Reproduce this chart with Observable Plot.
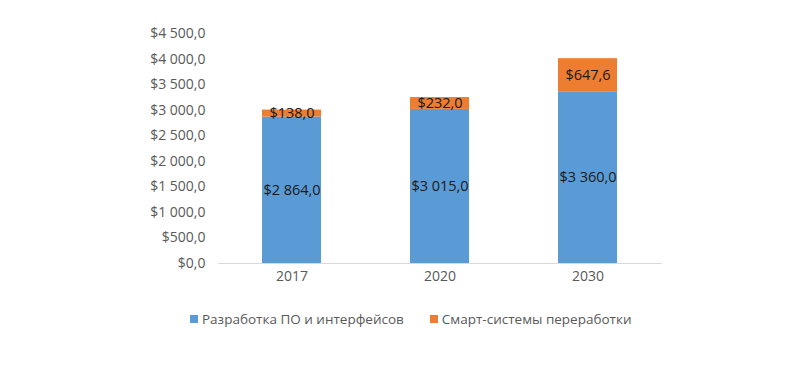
<!DOCTYPE html>
<html>
<head>
<meta charset="utf-8">
<script src="https://cdn.jsdelivr.net/npm/d3@7"></script>
<script src="https://cdn.jsdelivr.net/npm/@observablehq/plot@0.6"></script>
<style>
  body { margin: 0; background: #fff; font-family: "Open Sans", "Noto Sans", sans-serif; }
  #chart { position: relative; width: 800px; height: 369px; }
  .legend { position: absolute; top: 310px; left: 190px; display: flex; gap: 26px; font-size: 13.5px; color: #595959; }
  .legend span.item { display: flex; align-items: center; }
  .legend i { display: inline-block; width: 8px; height: 8px; margin-right: 4px; }
</style>
</head>
<body>
<div id="chart"></div>
<script>
const years = ["2017", "2020", "2030"];
const seriesNames = ["Разработка ПО и интерфейсов", "Смарт-системы переработки"];
const software = [2864.0, 3015.0, 3360.0];
const smart = [138.0, 232.0, 647.6];
const yTicks = [0, 500, 1000, 1500, 2000, 2500, 3000, 3500, 4000, 4500];
const colors = ["#5B9BD5", "#ED7D31"];

const locale = d3.formatLocale({decimal: ",", thousands: "\u00a0", grouping: [3], currency: ["$", ""]});
const fmt = locale.format("$,.1f");

const data = [];
years.forEach((y, i) => data.push({year: y, series: seriesNames[0], value: software[i]}));
years.forEach((y, i) => data.push({year: y, series: seriesNames[1], value: smart[i]}));

const plot = Plot.plot({
  width: 800,
  height: 290,
  marginLeft: 218,
  marginRight: 138,
  marginTop: 33,
  marginBottom: 27,
  style: {fontFamily: "'Open Sans', 'Noto Sans', sans-serif", fontSize: "14px", color: "#595959"},
  x: {domain: years, label: null, paddingInner: 0.6, paddingOuter: 0.3, tickSize: 0, tickPadding: 8},
  y: {domain: [0, 4500], ticks: yTicks, tickFormat: fmt, label: null, tickSize: 0, tickPadding: 13},
  color: {domain: seriesNames, range: colors},
  marks: [
    Plot.barY(data, {x: "year", y: "value", fill: "series", z: "series"}),
    Plot.ruleY([0], {stroke: "#d9d9d9", strokeWidth: 1}),
    Plot.text(data, Plot.stackY({x: "year", y: "value", z: "series", text: d => fmt(d.value), fill: "#1a1a1a", fontSize: 14.5}))
  ]
});
document.getElementById("chart").appendChild(plot);

const legend = document.createElement("div");
legend.className = "legend";
seriesNames.forEach((s, i) => {
  const item = document.createElement("span");
  item.className = "item";
  item.innerHTML = `<i style="background:${colors[i]}"></i>${s}`;
  legend.appendChild(item);
});
document.getElementById("chart").appendChild(legend);
</script>
</body>
</html>
